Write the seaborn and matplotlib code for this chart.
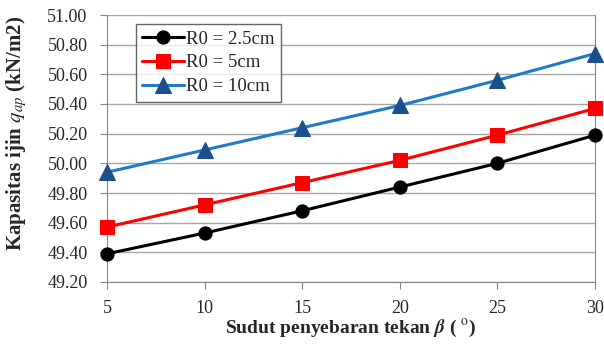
import pandas as pd
import numpy as np
from matplotlib import pyplot as plt
import seaborn as sns

# data
beta = [5, 10, 15, 20, 25, 30]
q_r25 = [49.39, 49.53, 49.68, 49.84, 50.00, 50.19]
q_r5 = [49.57, 49.72, 49.87, 50.02, 50.19, 50.37]
q_r10 = [49.94, 50.09, 50.24, 50.39, 50.56, 50.74]
labels = ['R0 = 2.5cm', 'R0 = 5cm', 'R0 = 10cm']

sns.set_style('white')
plt.rcParams['font.family'] = ['Liberation Serif', 'DejaVu Serif']
plt.rcParams['mathtext.fontset'] = 'stix'

fig = plt.figure(figsize=(6.04, 3.44), dpi=100)
ax = fig.add_axes([107/604, 1-282/344, 488/604, 267/344])

styles = [
    (q_r25, 'black', 'black', 'o', 9.5),
    (q_r5, 'red', 'red', 's', 10),
    (q_r10, '#1f7ac8', '#1f4e8c', '^', 11),
]
for (vals, lc, mc, mk, ms), lab in zip(styles, labels):
    sns.lineplot(x=beta, y=vals, ax=ax, color=lc, linewidth=2.2, marker=mk,
                 markersize=ms, markerfacecolor=mc, markeredgecolor=mc,
                 label=lab, clip_on=False, zorder=3)

ax.set_xlim(5, 30)
ax.set_ylim(49.2, 51.0)
ax.set_xticks(beta)
ax.set_yticks(np.arange(49.2, 51.01, 0.2))
ax.set_yticklabels([f'{v:.2f}' for v in np.arange(49.2, 51.01, 0.2)])
ax.grid(axis='y', color='#a6a6a6', linewidth=1)
ax.set_axisbelow(True)
for s in ['left', 'bottom', 'right']:
    ax.spines[s].set_color('#868686')
ax.spines['top'].set_visible(False)
ax.tick_params(axis='both', labelsize=13, direction='out', length=5,
               color='#868686')
ax.tick_params(axis='y', left=True, pad=9)
ax.tick_params(axis='x', bottom=True, pad=8)

ax.set_xlabel(r'Sudut penyebaran tekan $\boldsymbol{\beta}$ ( $^{\mathrm{o}}$)',
              fontsize=14, fontweight='bold')
ax.set_ylabel(r'Kapasitas ijin $q_{ap}$ (kN/m2)', fontsize=15,
              fontweight='bold')
ax.xaxis.set_label_coords(0.5, -(317 - 282) / 267)
ax.yaxis.set_label_coords(-(107 - 29) / 488, (282 - 133) / 267)

leg = ax.legend(loc='upper left', bbox_to_anchor=(0.059, 0.966), fontsize=13.5,
                frameon=True, fancybox=False, edgecolor='#404040',
                handlelength=2.2, borderpad=0.35, labelspacing=0.35,
                handletextpad=0.15, borderaxespad=0)
leg.get_frame().set_linewidth(1)

fig.savefig('out.png', dpi=100)
